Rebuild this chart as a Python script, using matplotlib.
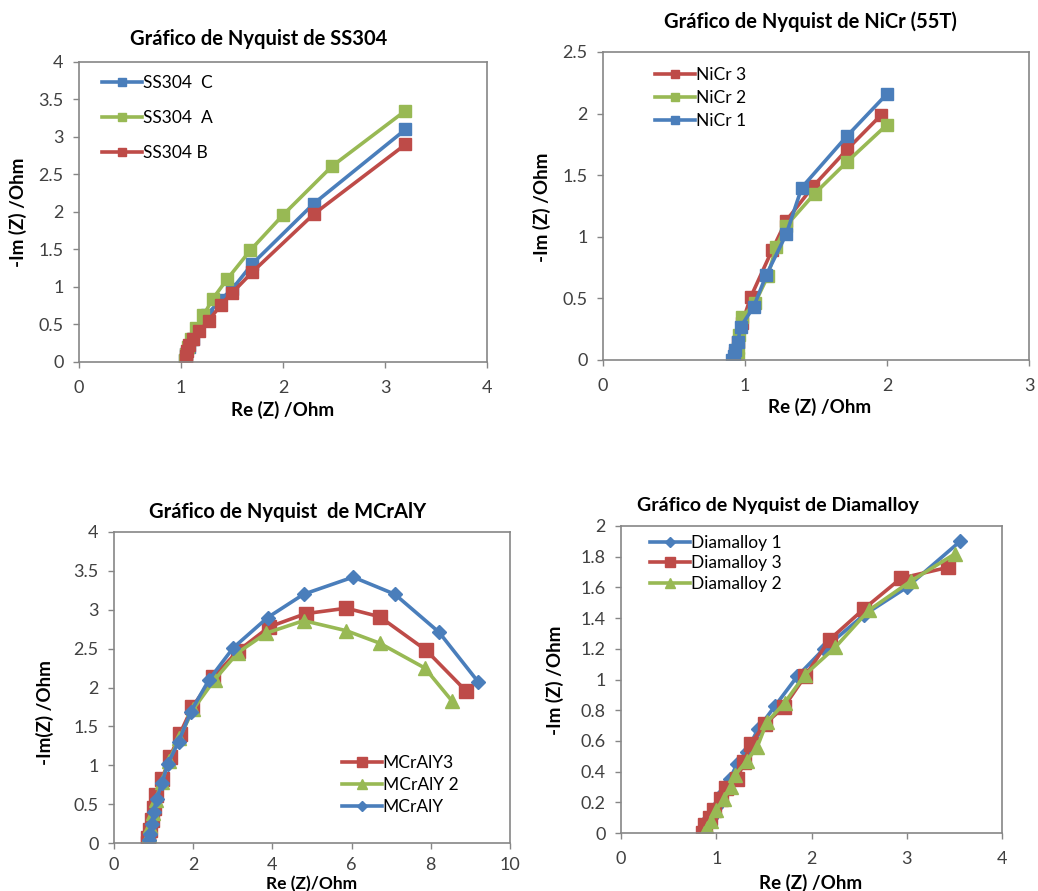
import matplotlib
matplotlib.use("Agg")
import matplotlib.pyplot as plt

plt.rcParams['font.family'] = ['Lato', 'DejaVu Sans']

W, H = 1038, 891

blue = "#4A7EBB"
red = "#BE4B48"
green = "#98B954"
grey = "#868686"
tick_col = "#404040"

# --- SS304 ---
ss_c_x = [3.2, 2.3, 1.7, 1.5, 1.38, 1.25, 1.17, 1.12, 1.08, 1.05, 1.04]
ss_c_y = [3.1, 2.11, 1.31, 0.97, 0.82, 0.62, 0.43, 0.3, 0.2, 0.1, 0.03]
ss_a_x = [3.2, 2.48, 2.0, 1.68, 1.45, 1.31, 1.22, 1.15, 1.1, 1.07, 1.05, 1.04]
ss_a_y = [3.35, 2.61, 1.96, 1.49, 1.1, 0.84, 0.62, 0.45, 0.3, 0.2, 0.1, 0.03]
ss_b_x = [3.2, 2.3, 1.7, 1.5, 1.39, 1.27, 1.18, 1.12, 1.08, 1.06, 1.05, 1.05]
ss_b_y = [2.9, 1.97, 1.2, 0.92, 0.76, 0.55, 0.41, 0.3, 0.22, 0.15, 0.08, 0.02]

# --- NiCr (55T) ---
nicr3_x = [1.96, 1.72, 1.48, 1.29, 1.19, 1.04, 0.98, 0.95, 0.93, 0.92]
nicr3_y = [1.99, 1.71, 1.41, 1.13, 0.89, 0.51, 0.3, 0.15, 0.06, 0.0]
nicr2_x = [2.0, 1.72, 1.49, 1.29, 1.22, 1.16, 1.07, 0.98, 0.96, 0.95, 0.95]
nicr2_y = [1.91, 1.61, 1.35, 1.09, 0.92, 0.68, 0.46, 0.35, 0.2, 0.1, 0.02]
nicr1_x = [2.0, 1.72, 1.4, 1.29, 1.15, 1.06, 0.97, 0.95, 0.93, 0.92, 0.91]
nicr1_y = [2.16, 1.82, 1.4, 1.02, 0.69, 0.43, 0.27, 0.15, 0.08, 0.03, 0.0]

# --- MCrAlY ---
mc3_x = [8.9, 7.88, 6.71, 5.87, 4.84, 3.92, 3.13, 2.5, 1.98, 1.66, 1.41, 1.21, 1.07, 1.0, 0.95, 0.9, 0.87, 0.85]
mc3_y = [1.95, 2.48, 2.91, 3.02, 2.95, 2.78, 2.47, 2.13, 1.75, 1.4, 1.1, 0.82, 0.62, 0.45, 0.3, 0.17, 0.07, 0.0]
mc2_x = [8.53, 7.85, 6.71, 5.87, 4.79, 3.85, 3.13, 2.54, 2.0, 1.65, 1.38, 1.2, 1.05, 0.98, 0.92, 0.88, 0.85]
mc2_y = [1.83, 2.25, 2.57, 2.73, 2.86, 2.7, 2.45, 2.1, 1.72, 1.35, 1.05, 0.78, 0.55, 0.38, 0.22, 0.1, 0.0]
mc1_x = [9.2, 8.21, 7.09, 6.04, 4.79, 3.88, 3.01, 2.4, 1.94, 1.63, 1.36, 1.21, 1.08, 1.0, 0.95, 0.9, 0.88]
mc1_y = [2.07, 2.71, 3.2, 3.42, 3.2, 2.9, 2.51, 2.1, 1.69, 1.3, 1.02, 0.77, 0.57, 0.4, 0.25, 0.12, 0.04]

# --- Diamalloy ---
dia1_x = [3.56, 3.0, 2.55, 2.13, 1.85, 1.62, 1.44, 1.32, 1.22, 1.14, 1.05, 1.0, 0.95, 0.88]
dia1_y = [1.9, 1.6, 1.42, 1.2, 1.02, 0.83, 0.68, 0.53, 0.45, 0.35, 0.25, 0.17, 0.1, 0.07]
dia3_x = [3.43, 2.94, 2.55, 2.19, 1.93, 1.71, 1.51, 1.36, 1.29, 1.22, 1.1, 1.05, 0.98, 0.93, 0.88, 0.86]
dia3_y = [1.73, 1.66, 1.46, 1.26, 1.02, 0.82, 0.71, 0.58, 0.46, 0.35, 0.29, 0.22, 0.15, 0.1, 0.05, 0.0]
dia2_x = [3.51, 3.04, 2.6, 2.25, 1.93, 1.72, 1.53, 1.43, 1.32, 1.2, 1.15, 1.08, 1.0, 0.95, 0.9, 0.87]
dia2_y = [1.82, 1.64, 1.45, 1.21, 1.03, 0.85, 0.72, 0.56, 0.47, 0.38, 0.3, 0.22, 0.15, 0.08, 0.03, 0.0]


def fx(px):
    return px / W


def fy(py):
    return 1 - py / H


fig = plt.figure(figsize=(W / 100, H / 100), dpi=100)


def make_ax(left, top, right, bottom, xlim, ylim, xticks, yticks, ylabels, xpad=9):
    ax = fig.add_axes([fx(left), fy(bottom), (right - left) / W, (bottom - top) / H])
    ax.set_xlim(*xlim)
    ax.set_ylim(*ylim)
    ax.set_xticks(xticks)
    ax.set_xticklabels([str(t) for t in xticks])
    ax.set_yticks(yticks)
    ax.set_yticklabels(ylabels)
    for s in ax.spines.values():
        s.set_color(grey)
        s.set_linewidth(1.2)
    ax.tick_params(direction="out", length=4, width=1, color=grey,
                   labelsize=13, labelcolor=tick_col)
    ax.tick_params(axis="x", pad=xpad)
    ax.tick_params(axis="y", pad=7)
    return ax


def text(x, y, s, **kw):
    fig.text(fx(x), fy(y), s, ha="center", va="center", fontweight="bold",
             color="black", **kw)


def legend(ax, x, y, spacing):
    ax.legend(loc="upper left", bbox_to_anchor=(fx(x), fy(y)), bbox_transform=fig.transFigure,
              frameon=False, borderpad=0, borderaxespad=0, handlelength=2.3,
              handletextpad=0.05, labelspacing=spacing, fontsize=12.5, markerscale=0.7)


# top left: SS304
ax1 = make_ax(79, 62, 487, 362, (0, 4), (0, 4), [0, 1, 2, 3, 4],
              [0, 0.5, 1, 1.5, 2, 2.5, 3, 3.5, 4],
              ["0", "0.5", "1", "1.5", "2", "2.5", "3", "3.5", "4"])
ax1.plot(ss_c_x, ss_c_y, color=blue, marker="s", ms=8, lw=2.6, label="SS304  C")
ax1.plot(ss_a_x, ss_a_y, color=green, marker="s", ms=8, lw=2.6, label="SS304  A")
ax1.plot(ss_b_x, ss_b_y, color=red, marker="s", ms=8, lw=2.6, label="SS304 B")
legend(ax1, 102, 75, 1.1)
text(259, 39, "Gráfico de Nyquist de SS304", fontsize=14.5)
text(283, 410, "Re (Z) /Ohm", fontsize=13.5)
text(18, 212, "-Im (Z) /Ohm", fontsize=13.5, rotation=90)

# top right: NiCr
ax2 = make_ax(603, 52, 1029, 360, (0, 3), (0, 2.5), [0, 1, 2, 3],
              [0, 0.5, 1, 1.5, 2, 2.5], ["0", "0.5", "1", "1.5", "2", "2.5"])
ax2.plot(nicr3_x, nicr3_y, color=red, marker="s", ms=8.5, lw=2.6, label="NiCr 3")
ax2.plot(nicr2_x, nicr2_y, color=green, marker="s", ms=8.5, lw=2.6, label="NiCr 2")
ax2.plot(nicr1_x, nicr1_y, color=blue, marker="s", ms=8.5, lw=2.6, label="NiCr 1")
legend(ax2, 655, 67, 0.4)
text(810, 22, "Gráfico de Nyquist de NiCr (55T)", fontsize=14.5)
text(820, 407, "Re (Z) /Ohm", fontsize=13.5)
text(542, 207, "-Im (Z) /Ohm", fontsize=13.5, rotation=90)

# bottom left: MCrAlY
ax3 = make_ax(114, 532, 510, 843, (0, 10), (0, 4), [0, 2, 4, 6, 8, 10],
              [0, 0.5, 1, 1.5, 2, 2.5, 3, 3.5, 4],
              ["0", "0.5", "1", "1.5", "2", "2.5", "3", "3.5", "4"], xpad=6)
ax3.plot(mc3_x, mc3_y, color=red, marker="s", ms=9.5, lw=2.6, label="MCrAlY3")
ax3.plot(mc2_x, mc2_y, color=green, marker="^", ms=10, lw=2.6, label="MCrAlY 2")
ax3.plot(mc1_x, mc1_y, color=blue, marker="D", ms=7, lw=2.6, label="MCrAlY")
legend(ax3, 342, 755, 0.35)
text(288, 512, "Gráfico de Nyquist  de MCrAlY", fontsize=14.5)
text(312, 884, "Re (Z)/Ohm", fontsize=12.5)
text(45, 713, "-Im(Z) /Ohm", fontsize=13.5, rotation=90)

# bottom right: Diamalloy
ax4 = make_ax(621, 526, 1002, 833, (0, 4), (0, 2), [0, 1, 2, 3, 4],
              [0, 0.2, 0.4, 0.6, 0.8, 1, 1.2, 1.4, 1.6, 1.8, 2],
              ["0", "0.2", "0.4", "0.6", "0.8", "1", "1.2", "1.4", "1.6", "1.8", "2"])
ax4.plot(dia1_x, dia1_y, color=blue, marker="D", ms=7, lw=2.6, label="Diamalloy 1")
ax4.plot(dia3_x, dia3_y, color=red, marker="s", ms=9.5, lw=2.6, label="Diamalloy 3")
ax4.plot(dia2_x, dia2_y, color=green, marker="^", ms=10, lw=2.6, label="Diamalloy 2")
legend(ax4, 650, 535, 0.25)
text(778, 505, "Gráfico de Nyquist de Diamalloy", fontsize=14)
text(811, 883, "Re (Z) /Ohm", fontsize=13.5)
text(555, 680, "-Im (Z) /Ohm", fontsize=13.5, rotation=90)

fig.savefig("out.png", dpi=100, facecolor="white")
